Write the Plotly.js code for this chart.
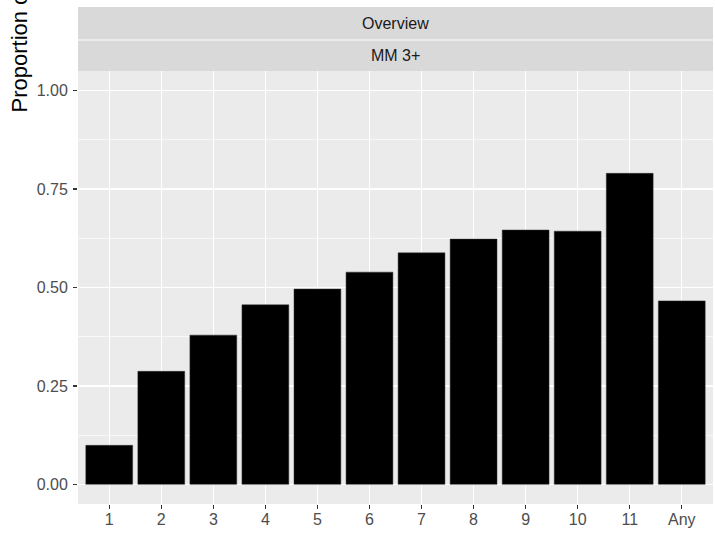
<!DOCTYPE html>
<html>
<head>
<meta charset="utf-8">
<script src="https://cdn.plot.ly/plotly-3.0.1.min.js"></script>
<style>html,body{margin:0;padding:0;background:#fff;}#chart{width:715px;height:536px;}</style>
</head>
<body>
<div id="chart"></div>
<script>
const categories = ["1","2","3","4","5","6","7","8","9","10","11","Any"];
const proportions = [0.099, 0.287, 0.379, 0.456, 0.496, 0.539, 0.588, 0.623, 0.646, 0.643, 0.790, 0.466];
const yTicks = [0, 0.25, 0.5, 0.75, 1.0];
const yTickLabels = ["0.00", "0.25", "0.50", "0.75", "1.00"];
const stripLabels = ["Overview", "MM 3+"];
const yTitle = "Proportion of patients";

const W = 715, H = 536;
const mL = 78, mR = 2, mT = 71, mB = 32;
const plotH = H - mT - mB;
const plotW = W - mL - mR;
const py = px => 1 + (mT - px) / plotH; // pixel y (from top) to paper y

const font = "Liberation Sans, Arial, sans-serif";

const trace = {
  type: "bar",
  x: categories,
  y: proportions,
  width: 0.9,
  marker: {color: "#000000", line: {color: "#333333", width: 0.5}},
  hoverinfo: "x+y"
};

const layout = {
  width: W, height: H,
  margin: {l: mL, r: mR, t: mT, b: mB, pad: 0},
  paper_bgcolor: "#ffffff",
  plot_bgcolor: "#EBEBEB",
  showlegend: false,
  bargap: 0.1,
  font: {family: font, color: "#4D4D4D", size: 16},
  xaxis: {
    type: "category",
    range: [-0.6, 11.6],
    showgrid: true, gridcolor: "#ffffff", gridwidth: 1.3,
    zeroline: false, showline: false,
    ticks: "outside", ticklen: 4, tickwidth: 1.3, tickcolor: "#333333",
    ticklabelstandoff: -3,
    tickfont: {family: font, size: 16, color: "#4D4D4D"},
    fixedrange: true
  },
  yaxis: {
    range: [-0.05, 1.05],
    tickvals: yTicks, ticktext: yTickLabels,
    showgrid: true, gridcolor: "#ffffff", gridwidth: 1.3,
    minor: {dtick: 0.125, tick0: 0.125, showgrid: true, gridcolor: "#ffffff", gridwidth: 0.65, ticks: ""},
    zeroline: false, showline: false,
    ticks: "outside", ticklen: 4, tickwidth: 1.3, tickcolor: "#333333",
    ticklabelstandoff: 2,
    tickfont: {family: font, size: 16, color: "#4D4D4D"},
    fixedrange: true
  },
  shapes: [
    {type: "rect", xref: "paper", yref: "paper", x0: 0, x1: 1, y0: py(39.5), y1: py(7), fillcolor: "#D9D9D9", line: {width: 0}, layer: "below"},
    {type: "rect", xref: "paper", yref: "paper", x0: 0, x1: 1, y0: py(71), y1: py(40.5), fillcolor: "#D9D9D9", line: {width: 0}, layer: "below"}
  ],
  annotations: [
    {xref: "paper", yref: "paper", x: 0.5, y: py(23.5), text: stripLabels[0], showarrow: false,
     xanchor: "center", yanchor: "middle", font: {family: font, size: 16, color: "#1A1A1A"}},
    {xref: "paper", yref: "paper", x: 0.5, y: py(56), text: stripLabels[1], showarrow: false,
     xanchor: "center", yanchor: "middle", font: {family: font, size: 16, color: "#1A1A1A"}},
    {xref: "paper", yref: "paper", x: (19 - mL) / plotW, y: py(115), text: yTitle, showarrow: false,
     textangle: -90, xanchor: "center", yanchor: "bottom", font: {family: font, size: 22, color: "#000000"}}
  ]
};

Plotly.newPlot("chart", [trace], layout, {displayModeBar: false, staticPlot: true});
</script>
</body>
</html>
